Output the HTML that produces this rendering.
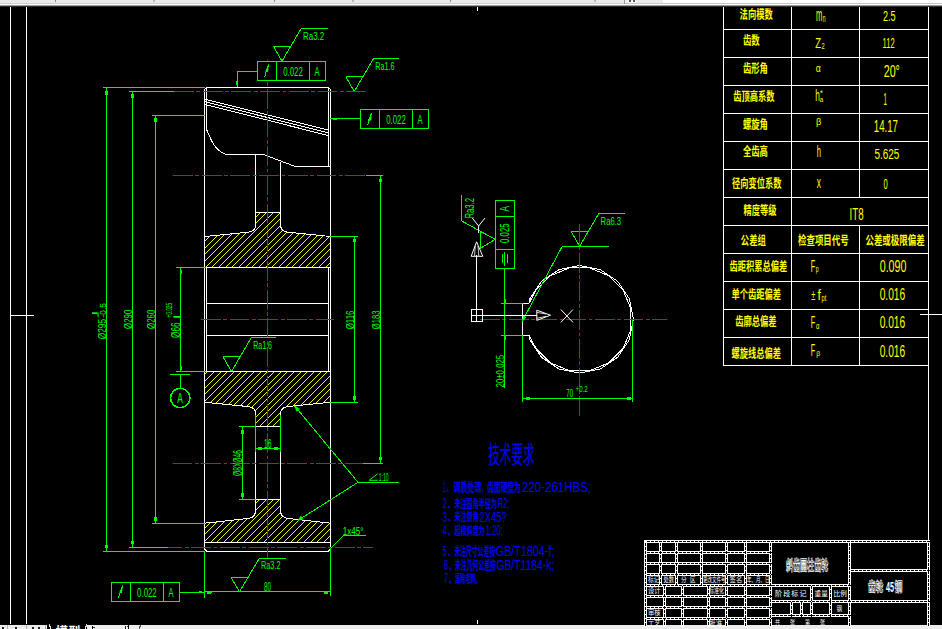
<!DOCTYPE html>
<html><head><meta charset="utf-8"><title>CAD</title>
<style>html,body{margin:0;padding:0;background:#000;overflow:hidden}svg{display:block;font-family:"Liberation Sans",sans-serif}.cj{font-family:"Liberation Sans","Noto Sans CJK SC",sans-serif}.cb{font-family:"Liberation Sans","Noto Sans CJK SC",sans-serif;font-weight:bold}</style>
</head><body>
<svg width="942" height="629" viewBox="0 0 942 629">
<rect x="0" y="0" width="942" height="629" fill="#000"/>
<rect x="0.00" y="0.00" width="942.00" height="3.00" fill="#ebebeb" />
<rect x="0.00" y="3.00" width="624.00" height="1.00" fill="#cfcfcf" />
<rect x="624.00" y="3.00" width="318.00" height="1.00" fill="#c8c8c8" />
<rect x="0.00" y="4.00" width="942.00" height="1.00" fill="#ffffff" />
<rect x="0.00" y="5.00" width="942.00" height="1.00" fill="#9c9c9c" />
<rect x="0.00" y="6.00" width="942.00" height="1.00" fill="#2e2e2e" />
<rect x="663.00" y="0.00" width="279.00" height="3.00" fill="#ffffff" />
<rect x="624.00" y="0.00" width="1.00" height="4.00" fill="#9a9a9a" />
<rect x="626.00" y="0.00" width="10.00" height="3.00" fill="#f8f8f8" />
<rect x="629.00" y="0.00" width="2.00" height="2.00" fill="#555" />
<rect x="633.00" y="0.00" width="2.00" height="2.00" fill="#555" />
<rect x="55.00" y="0.00" width="1.00" height="2.00" fill="#8a8a8a" />
<rect x="153.50" y="0.00" width="1.00" height="2.00" fill="#8a8a8a" />
<rect x="274.00" y="0.00" width="1.00" height="2.00" fill="#8a8a8a" />
<rect x="352.50" y="0.00" width="1.00" height="2.00" fill="#8a8a8a" />
<rect x="450.00" y="0.00" width="1.00" height="2.00" fill="#8a8a8a" />
<rect x="594.50" y="0.00" width="1.00" height="2.00" fill="#8a8a8a" />
<rect x="0.00" y="625.00" width="942.00" height="4.00" fill="#ececec" />
<rect x="7.00" y="625.00" width="1.00" height="4.00" fill="#b0b0b0" />
<rect x="26.00" y="625.00" width="1.00" height="4.00" fill="#b0b0b0" />
<rect x="45.00" y="625.00" width="1.00" height="4.00" fill="#b0b0b0" />
<rect x="2.00" y="627.00" width="2.00" height="2.00" fill="#222" />
<rect x="15.00" y="627.00" width="2.00" height="2.00" fill="#222" />
<rect x="32.00" y="627.00" width="2.00" height="2.00" fill="#222" />
<rect x="38.00" y="627.00" width="2.00" height="2.00" fill="#222" />
<rect x="47.00" y="625.00" width="40.00" height="4.00" fill="#000" />
<rect x="49.00" y="624.00" width="1.00" height="3.00" fill="#ddd" />
<rect x="50.00" y="626.00" width="1.00" height="3.00" fill="#ddd" />
<rect x="86.00" y="624.00" width="1.00" height="3.00" fill="#ddd" />
<rect x="85.00" y="626.00" width="1.00" height="3.00" fill="#ddd" />
<text class="cb" x="55.5" y="635.8" font-size="13" fill="#fff" textLength="25.2" lengthAdjust="spacingAndGlyphs">模型</text>
<rect x="92.00" y="626.00" width="1.00" height="3.00" fill="#000" />
<rect x="93.00" y="627.00" width="2.00" height="1.00" fill="#333" />
<rect x="125.00" y="626.00" width="1.00" height="3.00" fill="#222" />
<rect x="128.00" y="625.00" width="1.00" height="4.00" fill="#000" />
<rect x="127.00" y="626.00" width="1.00" height="1.00" fill="#444" />
<rect x="139.00" y="626.00" width="1.00" height="3.00" fill="#555" />
<rect x="140.00" y="625.00" width="1.00" height="2.00" fill="#555" />
<g shape-rendering="crispEdges">
<line x1="10.50" y1="7.00" x2="10.50" y2="624.00" stroke="#ffffff" stroke-width="1" />
<line x1="26.50" y1="7.00" x2="26.50" y2="624.00" stroke="#ffffff" stroke-width="1" />
<line x1="11.00" y1="315.50" x2="34.00" y2="315.50" stroke="#ffffff" stroke-width="1" />
<line x1="928.50" y1="7.00" x2="928.50" y2="541.00" stroke="#ffffff" stroke-width="1" />
<line x1="920.00" y1="314.50" x2="942.00" y2="314.50" stroke="#ffffff" stroke-width="1" />
<line x1="477.50" y1="7.00" x2="477.50" y2="10.50" stroke="#ffffff" stroke-width="1" />
<line x1="477.50" y1="620.00" x2="477.50" y2="624.00" stroke="#ffffff" stroke-width="1" />
<polygon points="204.60,549.30 204.60,89.50 206.60,87.50 328.40,87.50 330.40,89.50 330.40,549.30 328.40,551.30 206.60,551.30" fill="none" stroke="#ffffff" stroke-width="1" />
<line x1="206.50" y1="87.50" x2="206.50" y2="130.20" stroke="#ffffff" stroke-width="1" />
<line x1="328.50" y1="87.50" x2="328.50" y2="166.10" stroke="#ffffff" stroke-width="1" />
<line x1="204.60" y1="99.10" x2="328.80" y2="130.20" stroke="#ffffff" stroke-width="1" />
<line x1="204.60" y1="101.70" x2="328.80" y2="132.93" stroke="#ffffff" stroke-width="1" />
<line x1="204.60" y1="104.30" x2="328.80" y2="135.66" stroke="#ffffff" stroke-width="1" />
<polyline points="206.90,130.20 208.20,133.50 210.20,137.70 212.00,141.50 213.90,144.80 216.30,147.80 219.00,150.30 222.00,152.60 225.70,154.30 262.90,154.30 294.30,166.10 330.40,166.10" fill="none" stroke="#ffffff" stroke-width="1" />
<line x1="255.50" y1="154.30" x2="255.50" y2="225.00" stroke="#ffffff" stroke-width="1" />
<line x1="280.50" y1="161.50" x2="280.50" y2="225.00" stroke="#ffffff" stroke-width="1" />
</g>
<pattern id="hat" width="20" height="20" patternUnits="userSpaceOnUse"><g fill="#ffff00" shape-rendering="crispEdges"><rect x="5" y="0" width="1" height="1"/><rect x="12" y="0" width="1" height="1"/><rect x="18" y="0" width="1" height="1"/><rect x="4" y="1" width="1" height="1"/><rect x="11" y="1" width="1" height="1"/><rect x="17" y="1" width="1" height="1"/><rect x="3" y="2" width="1" height="1"/><rect x="10" y="2" width="1" height="1"/><rect x="16" y="2" width="1" height="1"/><rect x="2" y="3" width="1" height="1"/><rect x="9" y="3" width="1" height="1"/><rect x="15" y="3" width="1" height="1"/><rect x="1" y="4" width="1" height="1"/><rect x="8" y="4" width="1" height="1"/><rect x="14" y="4" width="1" height="1"/><rect x="0" y="5" width="1" height="1"/><rect x="7" y="5" width="1" height="1"/><rect x="13" y="5" width="1" height="1"/><rect x="19" y="6" width="1" height="1"/><rect x="6" y="6" width="1" height="1"/><rect x="12" y="6" width="1" height="1"/><rect x="18" y="7" width="1" height="1"/><rect x="5" y="7" width="1" height="1"/><rect x="11" y="7" width="1" height="1"/><rect x="17" y="8" width="1" height="1"/><rect x="4" y="8" width="1" height="1"/><rect x="10" y="8" width="1" height="1"/><rect x="16" y="9" width="1" height="1"/><rect x="3" y="9" width="1" height="1"/><rect x="9" y="9" width="1" height="1"/><rect x="15" y="10" width="1" height="1"/><rect x="2" y="10" width="1" height="1"/><rect x="8" y="10" width="1" height="1"/><rect x="14" y="11" width="1" height="1"/><rect x="1" y="11" width="1" height="1"/><rect x="7" y="11" width="1" height="1"/><rect x="13" y="12" width="1" height="1"/><rect x="0" y="12" width="1" height="1"/><rect x="6" y="12" width="1" height="1"/><rect x="12" y="13" width="1" height="1"/><rect x="19" y="13" width="1" height="1"/><rect x="5" y="13" width="1" height="1"/><rect x="11" y="14" width="1" height="1"/><rect x="18" y="14" width="1" height="1"/><rect x="4" y="14" width="1" height="1"/><rect x="10" y="15" width="1" height="1"/><rect x="17" y="15" width="1" height="1"/><rect x="3" y="15" width="1" height="1"/><rect x="9" y="16" width="1" height="1"/><rect x="16" y="16" width="1" height="1"/><rect x="2" y="16" width="1" height="1"/><rect x="8" y="17" width="1" height="1"/><rect x="15" y="17" width="1" height="1"/><rect x="1" y="17" width="1" height="1"/><rect x="7" y="18" width="1" height="1"/><rect x="14" y="18" width="1" height="1"/><rect x="0" y="18" width="1" height="1"/><rect x="6" y="19" width="1" height="1"/><rect x="13" y="19" width="1" height="1"/><rect x="19" y="19" width="1" height="1"/></g></pattern>
<path d="M255.6,212.0 L255.6,224.5 Q255.6,231.3 248.6,232.2 L204.6,236.5 L204.6,267.4 L330.4,267.4 L330.4,236.5 L287.5,232.2 Q280.5,231.3 280.5,224.5 L280.5,212.0 Z" fill="url(#hat)" stroke="none" stroke-width="0" />
<path d="M255.6,212.0 L255.6,224.5 Q255.6,231.3 248.6,232.2 L204.6,236.5 L204.6,267.4 L330.4,267.4 L330.4,236.5 L287.5,232.2 Q280.5,231.3 280.5,224.5 L280.5,212.0 Z" fill="none" stroke="#ffffff" stroke-width="1" shape-rendering="crispEdges"/>
<path d="M255.6,426.8 L255.6,414.3 Q255.6,407.5 248.6,406.6 L204.6,402.3 L204.6,371.4 L330.4,371.4 L330.4,402.3 L287.5,406.6 Q280.5,407.5 280.5,414.3 L280.5,426.8 Z" fill="url(#hat)" stroke="none" stroke-width="0" />
<path d="M255.6,426.8 L255.6,414.3 Q255.6,407.5 248.6,406.6 L204.6,402.3 L204.6,371.4 L330.4,371.4 L330.4,402.3 L287.5,406.6 Q280.5,407.5 280.5,414.3 L280.5,426.8 Z" fill="none" stroke="#ffffff" stroke-width="1" shape-rendering="crispEdges"/>
<path d="M255.6,499.3 L255.6,510 Q255.6,517.6 248.6,518.4 L204.6,523.2 L204.6,542.5 L330.4,542.5 L330.4,523.2 L287.5,518.4 Q280.5,517.6 280.5,510 L280.5,499.3 Z" fill="url(#hat)" stroke="none" stroke-width="0" />
<path d="M255.6,499.3 L255.6,510 Q255.6,517.6 248.6,518.4 L204.6,523.2 L204.6,542.5 L330.4,542.5 L330.4,523.2 L287.5,518.4 Q280.5,517.6 280.5,510 L280.5,499.3 Z" fill="none" stroke="#ffffff" stroke-width="1" shape-rendering="crispEdges"/>
<g shape-rendering="crispEdges">
<line x1="206.50" y1="267.40" x2="206.50" y2="371.40" stroke="#ffffff" stroke-width="1" />
<line x1="328.50" y1="267.40" x2="328.50" y2="371.40" stroke="#ffffff" stroke-width="1" />
<line x1="206.90" y1="303.50" x2="328.80" y2="303.50" stroke="#ffffff" stroke-width="1" />
<line x1="206.90" y1="335.50" x2="328.80" y2="335.50" stroke="#ffffff" stroke-width="1" />
<line x1="255.50" y1="414.50" x2="255.50" y2="451.80" stroke="#00ff00" stroke-width="1" />
<line x1="280.50" y1="414.50" x2="280.50" y2="451.80" stroke="#00ff00" stroke-width="1" />
<line x1="255.50" y1="451.80" x2="255.50" y2="499.30" stroke="#ffffff" stroke-width="1" />
<line x1="280.50" y1="451.80" x2="280.50" y2="499.30" stroke="#ffffff" stroke-width="1" />
<line x1="204.60" y1="542.50" x2="330.40" y2="542.50" stroke="#ffffff" stroke-width="1" />
<line x1="174.00" y1="91.50" x2="365.70" y2="91.50" stroke="#ff0000" stroke-width="1" stroke-dasharray="19.9 2.5 3.8 2.5"/>
<line x1="173.00" y1="175.50" x2="365.80" y2="175.50" stroke="#ff0000" stroke-width="1" stroke-dasharray="19.9 2.5 3.8 2.5"/>
<line x1="200.90" y1="319.50" x2="334.40" y2="319.50" stroke="#ff0000" stroke-width="1" stroke-dasharray="19.9 2.5 3.8 2.5"/>
<line x1="172.50" y1="463.50" x2="363.00" y2="463.50" stroke="#ff0000" stroke-width="1" stroke-dasharray="19.9 2.5 3.8 2.5"/>
<line x1="167.60" y1="547.50" x2="372.70" y2="547.50" stroke="#ff0000" stroke-width="1" stroke-dasharray="19.9 2.5 3.8 2.5" stroke-dashoffset="5.1"/>
<line x1="267.50" y1="60.00" x2="267.50" y2="558.00" stroke="#ff0000" stroke-width="1" stroke-dasharray="19.9 2.5 3.8 2.5"/>
<line x1="103.20" y1="87.50" x2="204.60" y2="87.50" stroke="#00ff00" stroke-width="1" />
<line x1="106.50" y1="87.40" x2="106.50" y2="551.30" stroke="#00ff00" stroke-width="1" />
<line x1="103.20" y1="551.50" x2="204.60" y2="551.50" stroke="#00ff00" stroke-width="1" />
<line x1="128.80" y1="91.50" x2="174.00" y2="91.50" stroke="#00ff00" stroke-width="1" />
<line x1="132.50" y1="91.40" x2="132.50" y2="547.40" stroke="#00ff00" stroke-width="1" />
<line x1="128.80" y1="547.50" x2="167.90" y2="547.50" stroke="#00ff00" stroke-width="1" />
<line x1="152.10" y1="115.50" x2="204.60" y2="115.50" stroke="#00ff00" stroke-width="1" />
<line x1="155.50" y1="115.50" x2="155.50" y2="523.20" stroke="#00ff00" stroke-width="1" />
<line x1="152.10" y1="523.50" x2="204.60" y2="523.50" stroke="#00ff00" stroke-width="1" />
<rect x="105.00" y="91.00" width="3.00" height="3.60" fill="#00ff00" />
<rect x="105.00" y="544.80" width="3.00" height="3.60" fill="#00ff00" />
<rect x="131.00" y="94.00" width="3.00" height="3.60" fill="#00ff00" />
<rect x="131.00" y="540.80" width="3.00" height="3.60" fill="#00ff00" />
<rect x="154.00" y="118.00" width="3.00" height="3.60" fill="#00ff00" />
<rect x="154.00" y="516.90" width="3.00" height="3.60" fill="#00ff00" />
<line x1="176.20" y1="267.50" x2="205.60" y2="267.50" stroke="#00ff00" stroke-width="1" />
<line x1="180.50" y1="267.40" x2="180.50" y2="371.40" stroke="#00ff00" stroke-width="1" />
<line x1="176.20" y1="371.50" x2="205.60" y2="371.50" stroke="#00ff00" stroke-width="1" />
<rect x="179.50" y="269.50" width="2.00" height="4.00" fill="#00ff00" />
<rect x="179.50" y="365.50" width="2.00" height="4.00" fill="#00ff00" />
<line x1="170.00" y1="374.50" x2="190.00" y2="374.50" stroke="#00ff00" stroke-width="1" />
<line x1="180.50" y1="375.00" x2="180.50" y2="388.00" stroke="#00ff00" stroke-width="1" />
</g>
<circle cx="180.2" cy="398" r="9.7" fill="none" stroke="#00ff00" stroke-width="1.5" shape-rendering="crispEdges"/>
<text x="177.3" y="402.8" font-size="14" fill="#00ff00" textLength="5.6" lengthAdjust="spacingAndGlyphs">A</text>
<text transform="translate(106.00,339.20) rotate(-90)" font-size="11.5" fill="#00ff00" textLength="20.3" lengthAdjust="spacingAndGlyphs">Ø295</text>
<text transform="translate(106.00,317.60) rotate(-90)" font-size="9.1" fill="#00ff00" textLength="14.5" lengthAdjust="spacingAndGlyphs">-0.5</text>
<rect x="92.00" y="312.30" width="5.50" height="1.80" fill="#00ff00" />
<rect x="97.60" y="312.40" width="1.00" height="5.00" fill="#00ff00" />
<text transform="translate(131.80,329.00) rotate(-90)" font-size="11.5" fill="#00ff00" textLength="19.3" lengthAdjust="spacingAndGlyphs">Ø290</text>
<text transform="translate(154.80,329.00) rotate(-90)" font-size="11.5" fill="#00ff00" textLength="19.3" lengthAdjust="spacingAndGlyphs">Ø260</text>
<text transform="translate(180.00,337.90) rotate(-90)" font-size="12" fill="#00ff00" textLength="15.3" lengthAdjust="spacingAndGlyphs">Ø66</text>
<text transform="translate(172.30,317.60) rotate(-90)" font-size="9.1" fill="#00ff00" textLength="14.8" lengthAdjust="spacingAndGlyphs">+0.025</text>
<rect x="173.40" y="316.00" width="7.30" height="1.80" fill="#00ff00" />
<g shape-rendering="crispEdges">
<line x1="330.40" y1="236.50" x2="357.80" y2="236.50" stroke="#00ff00" stroke-width="1" />
<line x1="354.50" y1="236.50" x2="354.50" y2="402.30" stroke="#00ff00" stroke-width="1" />
<line x1="330.40" y1="402.50" x2="357.80" y2="402.50" stroke="#00ff00" stroke-width="1" />
<rect x="353.00" y="238.80" width="3.00" height="3.60" fill="#00ff00" />
<rect x="353.00" y="396.40" width="3.00" height="3.60" fill="#00ff00" />
<line x1="365.80" y1="175.50" x2="383.40" y2="175.50" stroke="#00ff00" stroke-width="1" />
<line x1="380.50" y1="175.40" x2="380.50" y2="463.40" stroke="#00ff00" stroke-width="1" />
<line x1="363.00" y1="463.50" x2="383.40" y2="463.50" stroke="#00ff00" stroke-width="1" />
<rect x="379.00" y="178.80" width="3.00" height="3.60" fill="#00ff00" />
<rect x="379.00" y="456.60" width="3.00" height="3.60" fill="#00ff00" />
</g>
<text transform="translate(354.20,329.30) rotate(-90)" font-size="11.5" fill="#00ff00" textLength="18.8" lengthAdjust="spacingAndGlyphs">Ø116</text>
<text transform="translate(379.60,329.30) rotate(-90)" font-size="11.5" fill="#00ff00" textLength="18.8" lengthAdjust="spacingAndGlyphs">Ø183</text>
<rect x="257.30" y="61.10" width="68.40" height="19.40" fill="#000" />
<g shape-rendering="crispEdges">
<line x1="257.30" y1="61.50" x2="326.30" y2="61.50" stroke="#00ff00" stroke-width="1" />
<line x1="257.30" y1="80.50" x2="326.30" y2="80.50" stroke="#00ff00" stroke-width="1" />
<line x1="257.50" y1="61.10" x2="257.50" y2="80.50" stroke="#00ff00" stroke-width="1" />
<line x1="276.50" y1="61.10" x2="276.50" y2="80.50" stroke="#00ff00" stroke-width="1" />
<line x1="309.50" y1="61.10" x2="309.50" y2="80.50" stroke="#00ff00" stroke-width="1" />
<line x1="325.50" y1="61.10" x2="325.50" y2="80.50" stroke="#00ff00" stroke-width="1" />
</g>
<line x1="264.50" y1="77.30" x2="268.30" y2="64.90" stroke="#00ff00" stroke-width="1" shape-rendering="crispEdges"/>
<polygon points="268.90,64.30 265.30,71.30 267.90,71.90" fill="#00ff00" stroke="#00ff00" stroke-width="0.4" shape-rendering="crispEdges"/>
<text x="283.2" y="75.8" font-size="12.6" fill="#00ff00" textLength="19.6" lengthAdjust="spacingAndGlyphs">0.022</text>
<text x="314.5" y="75.8" font-size="12.6" fill="#00ff00" textLength="5" lengthAdjust="spacingAndGlyphs">A</text>
<rect x="360.30" y="109.30" width="68.40" height="19.40" fill="#000" />
<g shape-rendering="crispEdges">
<line x1="360.30" y1="109.50" x2="429.30" y2="109.50" stroke="#00ff00" stroke-width="1" />
<line x1="360.30" y1="128.50" x2="429.30" y2="128.50" stroke="#00ff00" stroke-width="1" />
<line x1="360.50" y1="109.30" x2="360.50" y2="128.70" stroke="#00ff00" stroke-width="1" />
<line x1="379.50" y1="109.30" x2="379.50" y2="128.70" stroke="#00ff00" stroke-width="1" />
<line x1="412.50" y1="109.30" x2="412.50" y2="128.70" stroke="#00ff00" stroke-width="1" />
<line x1="428.50" y1="109.30" x2="428.50" y2="128.70" stroke="#00ff00" stroke-width="1" />
</g>
<line x1="367.50" y1="125.50" x2="371.30" y2="113.10" stroke="#00ff00" stroke-width="1" shape-rendering="crispEdges"/>
<polygon points="371.90,112.50 368.30,119.50 370.90,120.10" fill="#00ff00" stroke="#00ff00" stroke-width="0.4" shape-rendering="crispEdges"/>
<text x="386.2" y="124" font-size="12.6" fill="#00ff00" textLength="19.6" lengthAdjust="spacingAndGlyphs">0.022</text>
<text x="417.5" y="124" font-size="12.6" fill="#00ff00" textLength="5" lengthAdjust="spacingAndGlyphs">A</text>
<rect x="111.20" y="582.20" width="68.40" height="19.40" fill="#000" />
<g shape-rendering="crispEdges">
<line x1="111.20" y1="582.50" x2="180.20" y2="582.50" stroke="#00ff00" stroke-width="1" />
<line x1="111.20" y1="601.50" x2="180.20" y2="601.50" stroke="#00ff00" stroke-width="1" />
<line x1="111.50" y1="582.20" x2="111.50" y2="601.60" stroke="#00ff00" stroke-width="1" />
<line x1="130.50" y1="582.20" x2="130.50" y2="601.60" stroke="#00ff00" stroke-width="1" />
<line x1="163.50" y1="582.20" x2="163.50" y2="601.60" stroke="#00ff00" stroke-width="1" />
<line x1="179.50" y1="582.20" x2="179.50" y2="601.60" stroke="#00ff00" stroke-width="1" />
</g>
<line x1="118.40" y1="598.40" x2="122.20" y2="586.00" stroke="#00ff00" stroke-width="1" shape-rendering="crispEdges"/>
<polygon points="122.80,585.40 119.20,592.40 121.80,593.00" fill="#00ff00" stroke="#00ff00" stroke-width="0.4" shape-rendering="crispEdges"/>
<text x="137.1" y="596.9" font-size="12.6" fill="#00ff00" textLength="19.6" lengthAdjust="spacingAndGlyphs">0.022</text>
<text x="168.4" y="596.9" font-size="12.6" fill="#00ff00" textLength="5" lengthAdjust="spacingAndGlyphs">A</text>
<g shape-rendering="crispEdges">
<line x1="237.30" y1="71.50" x2="257.30" y2="71.50" stroke="#00ff00" stroke-width="1" />
<line x1="237.50" y1="71.30" x2="237.50" y2="87.40" stroke="#00ff00" stroke-width="1" />
<rect x="236.00" y="81.00" width="1.50" height="3.50" fill="#00ff00" />
<line x1="330.40" y1="118.50" x2="360.30" y2="118.50" stroke="#00ff00" stroke-width="1" />
<rect x="333.20" y="118.40" width="4.00" height="1.60" fill="#00ff00" />
<line x1="179.80" y1="592.50" x2="204.60" y2="592.50" stroke="#00ff00" stroke-width="1" />
<rect x="198.50" y="591.00" width="3.50" height="1.50" fill="#00ff00" />
<rect x="208.00" y="591.00" width="4.00" height="1.50" fill="#00ff00" />
</g>
<g shape-rendering="crispEdges">
<line x1="273.40" y1="46.50" x2="290.60" y2="46.50" stroke="#00ff00" stroke-width="1" />
</g>
<line x1="273.40" y1="46.30" x2="282.00" y2="61.10" stroke="#00ff00" stroke-width="1" shape-rendering="crispEdges"/>
<line x1="282.00" y1="61.10" x2="301.40" y2="28.10" stroke="#00ff00" stroke-width="1" shape-rendering="crispEdges"/>
<g shape-rendering="crispEdges">
<line x1="301.40" y1="28.50" x2="328.10" y2="28.50" stroke="#00ff00" stroke-width="1" />
</g>
<text x="303" y="39.5" font-size="11.6" fill="#00ff00" textLength="21.2" lengthAdjust="spacingAndGlyphs">Ra3.2</text>
<g shape-rendering="crispEdges">
<line x1="345.70" y1="76.50" x2="362.90" y2="76.50" stroke="#00ff00" stroke-width="1" />
</g>
<line x1="345.70" y1="76.50" x2="354.30" y2="91.30" stroke="#00ff00" stroke-width="1" shape-rendering="crispEdges"/>
<line x1="354.30" y1="91.30" x2="373.70" y2="58.30" stroke="#00ff00" stroke-width="1" shape-rendering="crispEdges"/>
<g shape-rendering="crispEdges">
<line x1="373.70" y1="58.50" x2="399.10" y2="58.50" stroke="#00ff00" stroke-width="1" />
</g>
<text x="375.3" y="69.7" font-size="11.6" fill="#00ff00" textLength="19.2" lengthAdjust="spacingAndGlyphs">Ra1.6</text>
<g shape-rendering="crispEdges">
<line x1="222.90" y1="356.50" x2="240.10" y2="356.50" stroke="#00ff00" stroke-width="1" />
</g>
<line x1="222.90" y1="356.60" x2="231.50" y2="371.40" stroke="#00ff00" stroke-width="1" shape-rendering="crispEdges"/>
<line x1="231.50" y1="371.40" x2="251.66" y2="337.10" stroke="#00ff00" stroke-width="1" shape-rendering="crispEdges"/>
<g shape-rendering="crispEdges">
<line x1="251.66" y1="337.50" x2="276.26" y2="337.50" stroke="#00ff00" stroke-width="1" />
</g>
<text x="253.26" y="348.5" font-size="11.6" fill="#00ff00" textLength="18.7" lengthAdjust="spacingAndGlyphs">Ra1.6</text>
<g shape-rendering="crispEdges">
<line x1="230.90" y1="577.50" x2="248.10" y2="577.50" stroke="#00ff00" stroke-width="1" />
</g>
<line x1="230.90" y1="577.10" x2="239.50" y2="591.90" stroke="#00ff00" stroke-width="1" shape-rendering="crispEdges"/>
<line x1="239.50" y1="591.90" x2="259.43" y2="558.00" stroke="#00ff00" stroke-width="1" shape-rendering="crispEdges"/>
<g shape-rendering="crispEdges">
<line x1="259.43" y1="558.50" x2="286.03" y2="558.50" stroke="#00ff00" stroke-width="1" />
</g>
<text x="261.03" y="569.4" font-size="11.6" fill="#00ff00" textLength="19.5" lengthAdjust="spacingAndGlyphs">Ra3.2</text>
<g shape-rendering="crispEdges">
<line x1="571.00" y1="231.50" x2="588.20" y2="231.50" stroke="#00ff00" stroke-width="1" />
</g>
<line x1="571.00" y1="231.40" x2="579.60" y2="246.20" stroke="#00ff00" stroke-width="1" shape-rendering="crispEdges"/>
<line x1="579.60" y1="246.20" x2="599.00" y2="213.20" stroke="#00ff00" stroke-width="1" shape-rendering="crispEdges"/>
<g shape-rendering="crispEdges">
<line x1="599.00" y1="213.50" x2="625.00" y2="213.50" stroke="#00ff00" stroke-width="1" />
</g>
<text x="600.6" y="224.6" font-size="11.6" fill="#00ff00" textLength="20.5" lengthAdjust="spacingAndGlyphs">Ra6.3</text>
<g shape-rendering="crispEdges">
<line x1="204.50" y1="551.30" x2="204.50" y2="598.00" stroke="#00ff00" stroke-width="1" />
<line x1="330.50" y1="548.00" x2="330.50" y2="596.00" stroke="#00ff00" stroke-width="1" />
<line x1="204.60" y1="591.50" x2="330.40" y2="591.50" stroke="#00ff00" stroke-width="1" />
<rect x="206.60" y="590.50" width="4.50" height="3.00" fill="#00ff00" />
<rect x="323.90" y="590.50" width="4.50" height="3.00" fill="#00ff00" />
<line x1="255.60" y1="448.50" x2="280.50" y2="448.50" stroke="#00ff00" stroke-width="1" />
<rect x="258.40" y="447.20" width="4.00" height="3.00" fill="#00ff00" />
<rect x="273.80" y="447.20" width="4.00" height="3.00" fill="#00ff00" />
<line x1="239.00" y1="426.50" x2="255.60" y2="426.50" stroke="#00ff00" stroke-width="1" />
<line x1="242.50" y1="426.80" x2="242.50" y2="499.30" stroke="#00ff00" stroke-width="1" />
<line x1="239.00" y1="499.50" x2="255.60" y2="499.50" stroke="#00ff00" stroke-width="1" />
<rect x="241.00" y="429.60" width="3.00" height="4.50" fill="#00ff00" />
<rect x="241.00" y="492.50" width="3.00" height="4.50" fill="#00ff00" />
</g>
<text x="264" y="447.6" font-size="11.9" fill="#00ff00" textLength="7.4" lengthAdjust="spacingAndGlyphs">16</text>
<text x="264" y="591.2" font-size="11.9" fill="#00ff00" textLength="6.8" lengthAdjust="spacingAndGlyphs">80</text>
<text transform="translate(241.60,476.00) rotate(-90)" font-size="12" fill="#00ff00" textLength="26" lengthAdjust="spacingAndGlyphs">Ø8XØ46</text>
<line x1="294.80" y1="406.10" x2="358.00" y2="482.30" stroke="#00ff00" stroke-width="1" shape-rendering="crispEdges"/>
<line x1="358.00" y1="482.30" x2="298.00" y2="520.40" stroke="#00ff00" stroke-width="1" shape-rendering="crispEdges"/>
<polygon points="298.00,520.20 303.20,519.20 301.00,515.80" fill="#00ff00" stroke="#00ff00" stroke-width="0.5" />
<polygon points="294.80,406.10 299.60,409.00 296.60,411.40" fill="#00ff00" stroke="#00ff00" stroke-width="0.5" />
<g shape-rendering="crispEdges">
<line x1="358.00" y1="482.50" x2="399.00" y2="482.50" stroke="#00ff00" stroke-width="1" />
<line x1="344.00" y1="535.50" x2="366.00" y2="535.50" stroke="#00ff00" stroke-width="1" />
</g>
<line x1="344.00" y1="535.30" x2="330.80" y2="548.00" stroke="#00ff00" stroke-width="1" shape-rendering="crispEdges"/>
<polyline points="377.60,473.80 369.30,480.30 377.80,480.30" fill="none" stroke="#00ff00" stroke-width="1" />
<text x="378.8" y="480.6" font-size="10" fill="#00ff00" textLength="9.6" lengthAdjust="spacingAndGlyphs">1:10</text>
<text x="342.8" y="534.6" font-size="11.2" fill="#00ff00" textLength="20.8" lengthAdjust="spacingAndGlyphs">1x45°</text>
<polyline points="529.19,302.95 529.90,298.71 541.56,281.26 559.01,269.60 579.60,265.50 600.19,269.60 617.64,281.26 629.30,298.71 633.40,319.30 629.30,339.89 617.64,357.34 600.19,369.00 579.60,373.10 559.01,369.00 541.56,357.34 529.90,339.89 529.15,335.55" fill="none" stroke="#ffffff" stroke-width="1" shape-rendering="crispEdges"/>
<polyline points="529.19,302.95 536.03,290.19 550.49,275.73 569.38,267.91 589.82,267.91 608.71,275.73 623.17,290.19 630.99,309.08 630.99,329.52 623.17,348.41 608.71,362.87 589.82,370.69 569.38,370.69 550.49,362.87 536.03,348.41 529.15,335.55" fill="none" stroke="#ffffff" stroke-width="1" shape-rendering="crispEdges"/>
<g shape-rendering="crispEdges">
<line x1="522.90" y1="303.50" x2="529.19" y2="303.50" stroke="#ffffff" stroke-width="1" />
<line x1="522.90" y1="335.50" x2="529.15" y2="335.50" stroke="#ffffff" stroke-width="1" />
<line x1="522.50" y1="303.10" x2="522.50" y2="335.40" stroke="#ffffff" stroke-width="1" />
<line x1="480.00" y1="319.50" x2="667.00" y2="319.50" stroke="#ff0000" stroke-width="1" stroke-dasharray="19.9 2.5 3.8 2.5"/>
<line x1="579.50" y1="224.00" x2="579.50" y2="415.50" stroke="#ff0000" stroke-width="1" stroke-dasharray="19.9 2.5 3.8 2.5"/>
<line x1="501.00" y1="303.50" x2="522.90" y2="303.50" stroke="#00ff00" stroke-width="1" />
<line x1="501.00" y1="335.50" x2="522.90" y2="335.50" stroke="#00ff00" stroke-width="1" />
<line x1="504.50" y1="268.40" x2="504.50" y2="388.00" stroke="#00ff00" stroke-width="1" />
<rect x="504.00" y="299.00" width="2.00" height="3.50" fill="#00ff00" />
<rect x="504.00" y="336.00" width="2.00" height="3.50" fill="#00ff00" />
<line x1="522.50" y1="335.40" x2="522.50" y2="401.70" stroke="#00ff00" stroke-width="1" />
<line x1="632.50" y1="319.60" x2="632.50" y2="401.70" stroke="#00ff00" stroke-width="1" />
<line x1="522.90" y1="398.50" x2="632.60" y2="398.50" stroke="#00ff00" stroke-width="1" />
<rect x="525.50" y="397.00" width="4.00" height="3.00" fill="#00ff00" />
<rect x="626.50" y="397.00" width="4.00" height="3.00" fill="#00ff00" />
<line x1="562.30" y1="246.50" x2="608.80" y2="246.50" stroke="#00ff00" stroke-width="1" />
</g>
<line x1="562.30" y1="246.20" x2="521.70" y2="322.30" stroke="#00ff00" stroke-width="1" shape-rendering="crispEdges"/>
<polygon points="521.70,322.30 526.00,317.30 523.50,315.90" fill="#00ff00" stroke="#00ff00" stroke-width="0.4" shape-rendering="crispEdges"/>
<text transform="translate(504.40,387.40) rotate(-90)" font-size="11.7" fill="#00ff00" textLength="32.6" lengthAdjust="spacingAndGlyphs">20±0.025</text>
<text x="566.3" y="397.4" font-size="11.6" fill="#00ff00" textLength="6.8" lengthAdjust="spacingAndGlyphs">70</text>
<text x="575.6" y="391.6" font-size="9.5" fill="#00ff00" textLength="12" lengthAdjust="spacingAndGlyphs">+0.2</text>
<g shape-rendering="crispEdges">
<line x1="495.50" y1="200.00" x2="495.50" y2="268.40" stroke="#00ff00" stroke-width="1" />
<line x1="514.50" y1="200.00" x2="514.50" y2="268.40" stroke="#00ff00" stroke-width="1" />
<line x1="495.30" y1="200.50" x2="515.20" y2="200.50" stroke="#00ff00" stroke-width="1" />
<line x1="495.30" y1="216.50" x2="515.20" y2="216.50" stroke="#00ff00" stroke-width="1" />
<line x1="495.30" y1="249.50" x2="515.20" y2="249.50" stroke="#00ff00" stroke-width="1" />
<line x1="495.30" y1="268.50" x2="515.20" y2="268.50" stroke="#00ff00" stroke-width="1" />
<line x1="502.50" y1="254.40" x2="502.50" y2="263.00" stroke="#00ff00" stroke-width="1" />
<line x1="504.50" y1="251.80" x2="504.50" y2="265.80" stroke="#00ff00" stroke-width="1" />
<line x1="507.50" y1="254.40" x2="507.50" y2="263.00" stroke="#00ff00" stroke-width="1" />
<line x1="461.50" y1="195.00" x2="461.50" y2="220.80" stroke="#00ff00" stroke-width="1" />
</g>
<line x1="461.40" y1="220.80" x2="495.30" y2="239.40" stroke="#00ff00" stroke-width="1" shape-rendering="crispEdges"/>
<polygon points="480.30,231.50 480.30,248.40 495.30,239.40" fill="none" stroke="#00ff00" stroke-width="1" shape-rendering="crispEdges"/>
<text transform="translate(474.00,218.60) rotate(-90)" font-size="12" fill="#00ff00" textLength="20.7" lengthAdjust="spacingAndGlyphs">Ra3.2</text>
<text transform="translate(508.60,211.40) rotate(-90)" font-size="12" fill="#00ff00" textLength="5.6" lengthAdjust="spacingAndGlyphs">A</text>
<text transform="translate(509.10,243.00) rotate(-90)" font-size="12" fill="#00ff00" textLength="19.6" lengthAdjust="spacingAndGlyphs">0.025</text>
<g shape-rendering="crispEdges">
<rect x="471.5" y="309.5" width="11" height="12" fill="none" stroke="#ffffff"/>
<line x1="476.50" y1="255.00" x2="476.50" y2="321.40" stroke="#ffffff" stroke-width="1" />
<line x1="471.50" y1="315.50" x2="537.00" y2="315.50" stroke="#ffffff" stroke-width="1" />
</g>
<polygon points="476.60,241.80 471.20,256.30 482.80,256.30" fill="none" stroke="#ffffff" stroke-width="1" />
<line x1="475.20" y1="246.00" x2="474.60" y2="256.00" stroke="#ffffff" stroke-width="0.8" />
<line x1="478.00" y1="246.00" x2="478.80" y2="256.00" stroke="#ffffff" stroke-width="0.8" />
<polygon points="550.50,315.20 536.80,310.20 536.80,320.40" fill="none" stroke="#ffffff" stroke-width="1" />
<line x1="546.00" y1="314.00" x2="537.00" y2="312.40" stroke="#ffffff" stroke-width="0.8" />
<line x1="546.00" y1="316.40" x2="537.00" y2="318.20" stroke="#ffffff" stroke-width="0.8" />
<line x1="472.30" y1="218.00" x2="478.60" y2="226.00" stroke="#ffffff" stroke-width="1" />
<line x1="485.00" y1="218.00" x2="478.60" y2="226.00" stroke="#ffffff" stroke-width="1" />
<line x1="478.60" y1="226.00" x2="478.60" y2="233.00" stroke="#ffffff" stroke-width="1" />
<line x1="560.80" y1="309.50" x2="573.00" y2="322.40" stroke="#ffffff" stroke-width="1" />
<line x1="573.00" y1="309.50" x2="560.80" y2="322.40" stroke="#ffffff" stroke-width="1" />
<g shape-rendering="crispEdges">
<line x1="723.60" y1="29.50" x2="929.30" y2="29.50" stroke="#ffffff" stroke-width="1" />
<line x1="723.60" y1="57.50" x2="929.30" y2="57.50" stroke="#ffffff" stroke-width="1" />
<line x1="723.60" y1="85.50" x2="929.30" y2="85.50" stroke="#ffffff" stroke-width="1" />
<line x1="723.60" y1="113.50" x2="929.30" y2="113.50" stroke="#ffffff" stroke-width="1" />
<line x1="723.60" y1="141.50" x2="929.30" y2="141.50" stroke="#ffffff" stroke-width="1" />
<line x1="723.60" y1="169.50" x2="929.30" y2="169.50" stroke="#ffffff" stroke-width="1" />
<line x1="723.60" y1="197.50" x2="929.30" y2="197.50" stroke="#ffffff" stroke-width="1" />
<line x1="723.60" y1="225.50" x2="929.30" y2="225.50" stroke="#ffffff" stroke-width="1" />
<line x1="723.60" y1="253.50" x2="929.30" y2="253.50" stroke="#ffffff" stroke-width="1" />
<line x1="723.60" y1="281.50" x2="929.30" y2="281.50" stroke="#ffffff" stroke-width="1" />
<line x1="723.60" y1="309.50" x2="929.30" y2="309.50" stroke="#ffffff" stroke-width="1" />
<line x1="723.60" y1="337.50" x2="929.30" y2="337.50" stroke="#ffffff" stroke-width="1" />
<line x1="723.60" y1="365.50" x2="929.30" y2="365.50" stroke="#ffffff" stroke-width="1" />
<line x1="723.50" y1="7.00" x2="723.50" y2="365.65" stroke="#ffffff" stroke-width="1" />
<line x1="791.50" y1="7.00" x2="791.50" y2="365.65" stroke="#ffffff" stroke-width="1" />
<line x1="928.50" y1="7.00" x2="928.50" y2="365.65" stroke="#ffffff" stroke-width="1" />
<line x1="859.50" y1="7.00" x2="859.50" y2="197.35" stroke="#ffffff" stroke-width="1" />
<line x1="859.50" y1="225.40" x2="859.50" y2="365.65" stroke="#ffffff" stroke-width="1" />
</g>
<text class="cb" x="739.6" y="19.24" font-size="12.2" fill="#ffff00" textLength="33.15" lengthAdjust="spacingAndGlyphs">法向模数</text>
<text class="cb" x="742.9" y="44.74" font-size="12.2" fill="#ffff00" textLength="16.85" lengthAdjust="spacingAndGlyphs">齿数</text>
<text class="cb" x="742.9" y="72.94" font-size="12.2" fill="#ffff00" textLength="25" lengthAdjust="spacingAndGlyphs">齿形角</text>
<text class="cb" x="733.3" y="100.64" font-size="12.2" fill="#ffff00" textLength="41.3" lengthAdjust="spacingAndGlyphs">齿顶高系数</text>
<text class="cb" x="742.9" y="128.54" font-size="12.2" fill="#ffff00" textLength="25" lengthAdjust="spacingAndGlyphs">螺旋角</text>
<text class="cb" x="742.9" y="156.44" font-size="12.2" fill="#ffff00" textLength="25" lengthAdjust="spacingAndGlyphs">全齿高</text>
<text class="cb" x="732.1" y="188.04" font-size="12.2" fill="#ffff00" textLength="49.45" lengthAdjust="spacingAndGlyphs">径向变位系数</text>
<text class="cb" x="743.4" y="215.24" font-size="12.2" fill="#ffff00" textLength="33.15" lengthAdjust="spacingAndGlyphs">精度等级</text>
<text class="cb" x="740.8" y="245.14" font-size="12.2" fill="#ffff00" textLength="25" lengthAdjust="spacingAndGlyphs">公差组</text>
<text class="cb" x="729.6" y="271.44" font-size="12.2" fill="#ffff00" textLength="57.6" lengthAdjust="spacingAndGlyphs">齿距积累总偏差</text>
<text class="cb" x="731.6" y="299.04" font-size="12.2" fill="#ffff00" textLength="49.45" lengthAdjust="spacingAndGlyphs">单个齿距偏差</text>
<text class="cb" x="735.3" y="325.94" font-size="12.2" fill="#ffff00" textLength="41.3" lengthAdjust="spacingAndGlyphs">齿廓总偏差</text>
<text class="cb" x="731.6" y="357.74" font-size="12.2" fill="#ffff00" textLength="49.45" lengthAdjust="spacingAndGlyphs">螺旋线总偏差</text>
<text class="cb" x="798" y="244.54" font-size="12.2" fill="#ffff00" textLength="50.7" lengthAdjust="spacingAndGlyphs">检查项目代号</text>
<text class="cb" x="865.4" y="244.54" font-size="12.2" fill="#ffff00" textLength="59.4" lengthAdjust="spacingAndGlyphs">公差或极限偏差</text>
<text x="815.9" y="21.3" font-size="17.5" fill="#ffff00" textLength="6.3" lengthAdjust="spacingAndGlyphs">m</text>
<text x="822.8" y="22" font-size="10.9" fill="#ffff00" textLength="2.8" lengthAdjust="spacingAndGlyphs">n</text>
<text x="815.2" y="48.2" font-size="15.4" fill="#ffff00" textLength="5.8" lengthAdjust="spacingAndGlyphs">Z</text>
<text x="821.4" y="49" font-size="8.8" fill="#ffff00" textLength="3.2" lengthAdjust="spacingAndGlyphs">2</text>
<text x="815.8" y="72" font-size="10.6" fill="#ffff00" textLength="5" lengthAdjust="spacingAndGlyphs">α</text>
<text x="815.2" y="101.2" font-size="16.7" fill="#ffff00" textLength="4.6" lengthAdjust="spacingAndGlyphs">h</text>
<text x="820" y="95.5" font-size="9" fill="#ffff00" textLength="2.8" lengthAdjust="spacingAndGlyphs">*</text>
<text x="819.8" y="101.8" font-size="8" fill="#ffff00" textLength="3.4" lengthAdjust="spacingAndGlyphs">a</text>
<text x="816" y="124.8" font-size="9.5" fill="#ffff00" textLength="5.3" lengthAdjust="spacingAndGlyphs">β</text>
<text x="816.8" y="157.1" font-size="15.8" fill="#ffff00" textLength="4.2" lengthAdjust="spacingAndGlyphs">h</text>
<text x="816.8" y="187.7" font-size="16.7" fill="#ffff00" textLength="4.2" lengthAdjust="spacingAndGlyphs">x</text>
<text x="849.6" y="220.4" font-size="15.8" fill="#ffff00" textLength="14" lengthAdjust="spacingAndGlyphs">IT8</text>
<text x="810.8" y="271.8" font-size="15.9" fill="#ffff00" textLength="4.4" lengthAdjust="spacingAndGlyphs">F</text>
<text x="815.8" y="272.3" font-size="9.1" fill="#ffff00" textLength="2.8" lengthAdjust="spacingAndGlyphs">p</text>
<text x="811.2" y="300.4" font-size="14" fill="#ffff00" textLength="4" lengthAdjust="spacingAndGlyphs">±</text>
<text x="817.5" y="299.6" font-size="15.3" fill="#ffff00" textLength="3.4" lengthAdjust="spacingAndGlyphs">f</text>
<text x="821.5" y="300.6" font-size="9.7" fill="#ffff00" textLength="4.8" lengthAdjust="spacingAndGlyphs">pt</text>
<text x="810.8" y="327.9" font-size="16.4" fill="#ffff00" textLength="4.4" lengthAdjust="spacingAndGlyphs">F</text>
<text x="816" y="328.9" font-size="8.6" fill="#ffff00" textLength="3.4" lengthAdjust="spacingAndGlyphs">α</text>
<text x="810.8" y="356" font-size="16" fill="#ffff00" textLength="4.4" lengthAdjust="spacingAndGlyphs">F</text>
<text x="816.3" y="355.6" font-size="6.5" fill="#ffff00" textLength="3.9" lengthAdjust="spacingAndGlyphs">β</text>
<text x="883" y="21.3" font-size="14" fill="#ffff00" textLength="12.6" lengthAdjust="spacingAndGlyphs">2.5</text>
<text x="882.6" y="48.2" font-size="14.7" fill="#ffff00" textLength="12" lengthAdjust="spacingAndGlyphs">112</text>
<text x="883.7" y="77.3" font-size="16" fill="#ffff00" textLength="16.2" lengthAdjust="spacingAndGlyphs">20°</text>
<text x="883.6" y="105" font-size="16.2" fill="#ffff00" textLength="3.4" lengthAdjust="spacingAndGlyphs">1</text>
<text x="873.8" y="131.8" font-size="16.5" fill="#ffff00" textLength="24.2" lengthAdjust="spacingAndGlyphs">14.17</text>
<text x="874.4" y="158.9" font-size="15.2" fill="#ffff00" textLength="25" lengthAdjust="spacingAndGlyphs">5.625</text>
<text x="883.6" y="189" font-size="15.1" fill="#ffff00" textLength="4.2" lengthAdjust="spacingAndGlyphs">0</text>
<text x="879.7" y="271.8" font-size="16.3" fill="#ffff00" textLength="26.8" lengthAdjust="spacingAndGlyphs">0.090</text>
<text x="879.7" y="299.8" font-size="16.3" fill="#ffff00" textLength="25.5" lengthAdjust="spacingAndGlyphs">0.016</text>
<text x="879.7" y="328.2" font-size="16.3" fill="#ffff00" textLength="25.5" lengthAdjust="spacingAndGlyphs">0.016</text>
<text x="879.7" y="356.7" font-size="16.3" fill="#ffff00" textLength="25.5" lengthAdjust="spacingAndGlyphs">0.016</text>
<text class="cj" x="488.3" y="463.18" font-size="23.5" fill="#0000ff" textLength="46.3" lengthAdjust="spacingAndGlyphs">技术要求</text>
<text x="442.8" y="491.7" font-size="14.7" fill="#0000ff" textLength="3.2" lengthAdjust="spacingAndGlyphs">1</text>
<text class="cb" x="446.5" y="491.52" font-size="12.3" fill="#0000ff" textLength="6.5" lengthAdjust="spacingAndGlyphs">、</text>
<text class="cb" x="453.4" y="491.52" font-size="12.3" fill="#0000ff" textLength="28" lengthAdjust="spacingAndGlyphs">调质处理</text>
<text class="cb" x="482" y="491.52" font-size="12.3" fill="#0000ff" textLength="4" lengthAdjust="spacingAndGlyphs">，</text>
<text class="cb" x="487.3" y="491.52" font-size="12.3" fill="#0000ff" textLength="33.5" lengthAdjust="spacingAndGlyphs">齿面硬度为</text>
<text x="522" y="491.7" font-size="14.7" fill="#0000ff" textLength="69" lengthAdjust="spacingAndGlyphs">220-261HBS;</text>
<text x="442.8" y="508.4" font-size="14" fill="#0000ff" textLength="4.2" lengthAdjust="spacingAndGlyphs">2</text>
<text class="cb" x="448" y="508.28" font-size="11.8" fill="#0000ff" textLength="6.5" lengthAdjust="spacingAndGlyphs">、</text>
<text class="cb" x="454.4" y="508.28" font-size="11.8" fill="#0000ff" textLength="42.7" lengthAdjust="spacingAndGlyphs">未注圆角半径为</text>
<text x="497.8" y="508.4" font-size="14" fill="#0000ff" textLength="11.6" lengthAdjust="spacingAndGlyphs">R2;</text>
<text x="442.8" y="521.6" font-size="14" fill="#0000ff" textLength="4.2" lengthAdjust="spacingAndGlyphs">3</text>
<text class="cb" x="448" y="521.48" font-size="11.8" fill="#0000ff" textLength="6.5" lengthAdjust="spacingAndGlyphs">、</text>
<text class="cb" x="454.4" y="521.48" font-size="11.8" fill="#0000ff" textLength="24.4" lengthAdjust="spacingAndGlyphs">未注倒角</text>
<text x="479.6" y="521.6" font-size="14" fill="#0000ff" textLength="27" lengthAdjust="spacingAndGlyphs">2X45?</text>
<text x="442.8" y="535" font-size="14" fill="#0000ff" textLength="4.2" lengthAdjust="spacingAndGlyphs">4</text>
<text class="cb" x="448" y="534.88" font-size="11.8" fill="#0000ff" textLength="6.5" lengthAdjust="spacingAndGlyphs">、</text>
<text class="cb" x="454.4" y="534.88" font-size="11.8" fill="#0000ff" textLength="30.5" lengthAdjust="spacingAndGlyphs">起模斜度为</text>
<text x="485.8" y="535" font-size="14" fill="#0000ff" textLength="17.2" lengthAdjust="spacingAndGlyphs">1:20;</text>
<text x="442.8" y="556" font-size="14.5" fill="#0000ff" textLength="4.2" lengthAdjust="spacingAndGlyphs">5</text>
<text class="cb" x="448" y="555.84" font-size="12.2" fill="#0000ff" textLength="6.5" lengthAdjust="spacingAndGlyphs">、</text>
<text class="cb" x="454.4" y="555.84" font-size="12.2" fill="#0000ff" textLength="40.95" lengthAdjust="spacingAndGlyphs">未注尺寸公差按</text>
<text x="495.8" y="556" font-size="14.5" fill="#0000ff" textLength="58.6" lengthAdjust="spacingAndGlyphs">GB/T1804-f;</text>
<text x="444.1" y="569.8" font-size="14.5" fill="#0000ff" textLength="4.2" lengthAdjust="spacingAndGlyphs">6</text>
<text class="cb" x="449" y="569.64" font-size="12.2" fill="#0000ff" textLength="6.5" lengthAdjust="spacingAndGlyphs">、</text>
<text class="cb" x="455" y="569.64" font-size="12.2" fill="#0000ff" textLength="40.95" lengthAdjust="spacingAndGlyphs">未注几何公差按</text>
<text x="496.4" y="569.8" font-size="14.5" fill="#0000ff" textLength="58" lengthAdjust="spacingAndGlyphs">GB/T1184-k;</text>
<text x="444.1" y="582.8" font-size="14" fill="#0000ff" textLength="4.2" lengthAdjust="spacingAndGlyphs">7</text>
<text class="cb" x="449" y="582.68" font-size="11.8" fill="#0000ff" textLength="6.5" lengthAdjust="spacingAndGlyphs">、</text>
<text class="cb" x="455" y="582.68" font-size="11.8" fill="#0000ff" textLength="26" lengthAdjust="spacingAndGlyphs">清除毛刺。</text>
<g shape-rendering="crispEdges">
<line x1="644.00" y1="541.50" x2="772.00" y2="541.50" stroke="#ffffff" stroke-width="3" />
<line x1="644.00" y1="552.50" x2="772.00" y2="552.50" stroke="#ffffff" stroke-width="3" />
<line x1="644.00" y1="563.50" x2="772.00" y2="563.50" stroke="#ffffff" stroke-width="3" />
<line x1="644.00" y1="574.50" x2="772.00" y2="574.50" stroke="#ffffff" stroke-width="3" />
<line x1="644.00" y1="585.50" x2="772.00" y2="585.50" stroke="#ffffff" stroke-width="3" />
<line x1="644.00" y1="596.50" x2="772.00" y2="596.50" stroke="#ffffff" stroke-width="3" />
<line x1="644.00" y1="607.50" x2="772.00" y2="607.50" stroke="#ffffff" stroke-width="3" />
<line x1="644.00" y1="618.50" x2="772.00" y2="618.50" stroke="#ffffff" stroke-width="3" />
<line x1="644.00" y1="541.50" x2="930.00" y2="541.50" stroke="#ffffff" stroke-width="3" />
<line x1="769.00" y1="585.50" x2="851.00" y2="585.50" stroke="#ffffff" stroke-width="3" />
<line x1="769.00" y1="601.50" x2="930.00" y2="601.50" stroke="#ffffff" stroke-width="3" />
<line x1="769.00" y1="615.50" x2="851.00" y2="615.50" stroke="#ffffff" stroke-width="3" />
<line x1="848.00" y1="570.50" x2="930.00" y2="570.50" stroke="#ffffff" stroke-width="3" />
<line x1="660.50" y1="540.00" x2="660.50" y2="587.00" stroke="#ffffff" stroke-width="3" />
<line x1="676.50" y1="540.00" x2="676.50" y2="587.00" stroke="#ffffff" stroke-width="3" />
<line x1="701.50" y1="540.00" x2="701.50" y2="587.00" stroke="#ffffff" stroke-width="3" />
<line x1="664.50" y1="584.00" x2="664.50" y2="627.00" stroke="#ffffff" stroke-width="3" />
<line x1="682.50" y1="584.00" x2="682.50" y2="627.00" stroke="#ffffff" stroke-width="3" />
<line x1="708.50" y1="584.00" x2="708.50" y2="627.00" stroke="#ffffff" stroke-width="3" />
<line x1="645.50" y1="540.00" x2="645.50" y2="627.00" stroke="#ffffff" stroke-width="3" />
<line x1="726.50" y1="540.00" x2="726.50" y2="627.00" stroke="#ffffff" stroke-width="3" />
<line x1="745.50" y1="540.00" x2="745.50" y2="627.00" stroke="#ffffff" stroke-width="3" />
<line x1="770.50" y1="540.00" x2="770.50" y2="627.00" stroke="#ffffff" stroke-width="3" />
<line x1="849.50" y1="540.00" x2="849.50" y2="627.00" stroke="#ffffff" stroke-width="3" />
<line x1="928.50" y1="540.00" x2="928.50" y2="627.00" stroke="#ffffff" stroke-width="3" />
<line x1="811.50" y1="584.00" x2="811.50" y2="617.00" stroke="#ffffff" stroke-width="3" />
<line x1="830.50" y1="584.00" x2="830.50" y2="617.00" stroke="#ffffff" stroke-width="3" />
<line x1="791.50" y1="600.00" x2="791.50" y2="617.00" stroke="#ffffff" stroke-width="3" />
<line x1="801.50" y1="600.00" x2="801.50" y2="617.00" stroke="#ffffff" stroke-width="3" />
<line x1="646.70" y1="541.50" x2="771.70" y2="541.50" stroke="#000" stroke-width="1" stroke-dasharray="3 1"/>
<line x1="646.70" y1="552.50" x2="771.70" y2="552.50" stroke="#000" stroke-width="1" stroke-dasharray="3 1"/>
<line x1="646.70" y1="563.50" x2="771.70" y2="563.50" stroke="#000" stroke-width="1" stroke-dasharray="3 1"/>
<line x1="646.70" y1="574.50" x2="771.70" y2="574.50" stroke="#000" stroke-width="1" stroke-dasharray="3 1"/>
<line x1="646.70" y1="585.50" x2="771.70" y2="585.50" stroke="#000" stroke-width="1" stroke-dasharray="3 1"/>
<line x1="646.70" y1="596.50" x2="771.70" y2="596.50" stroke="#000" stroke-width="1" stroke-dasharray="3 1"/>
<line x1="646.70" y1="607.50" x2="771.70" y2="607.50" stroke="#000" stroke-width="1" stroke-dasharray="3 1"/>
<line x1="646.70" y1="618.50" x2="771.70" y2="618.50" stroke="#000" stroke-width="1" stroke-dasharray="3 1"/>
<line x1="646.70" y1="541.50" x2="929.70" y2="541.50" stroke="#000" stroke-width="1" stroke-dasharray="3 1"/>
<line x1="771.70" y1="585.50" x2="850.70" y2="585.50" stroke="#000" stroke-width="1" stroke-dasharray="3 1"/>
<line x1="771.70" y1="601.50" x2="929.70" y2="601.50" stroke="#000" stroke-width="1" stroke-dasharray="3 1"/>
<line x1="771.70" y1="615.50" x2="850.70" y2="615.50" stroke="#000" stroke-width="1" stroke-dasharray="3 1"/>
<line x1="850.70" y1="570.50" x2="929.70" y2="570.50" stroke="#000" stroke-width="1" stroke-dasharray="3 1"/>
<line x1="660.50" y1="542.70" x2="660.50" y2="586.20" stroke="#000" stroke-width="1" stroke-dasharray="3 1"/>
<line x1="676.50" y1="542.70" x2="676.50" y2="586.20" stroke="#000" stroke-width="1" stroke-dasharray="3 1"/>
<line x1="701.50" y1="542.70" x2="701.50" y2="586.20" stroke="#000" stroke-width="1" stroke-dasharray="3 1"/>
<line x1="664.50" y1="586.20" x2="664.50" y2="626.00" stroke="#000" stroke-width="1" stroke-dasharray="3 1"/>
<line x1="682.50" y1="586.20" x2="682.50" y2="626.00" stroke="#000" stroke-width="1" stroke-dasharray="3 1"/>
<line x1="708.50" y1="586.20" x2="708.50" y2="626.00" stroke="#000" stroke-width="1" stroke-dasharray="3 1"/>
<line x1="645.50" y1="542.70" x2="645.50" y2="626.00" stroke="#000" stroke-width="1" stroke-dasharray="3 1"/>
<line x1="726.50" y1="542.70" x2="726.50" y2="626.00" stroke="#000" stroke-width="1" stroke-dasharray="3 1"/>
<line x1="745.50" y1="542.70" x2="745.50" y2="626.00" stroke="#000" stroke-width="1" stroke-dasharray="3 1"/>
<line x1="770.50" y1="542.70" x2="770.50" y2="626.00" stroke="#000" stroke-width="1" stroke-dasharray="3 1"/>
<line x1="849.50" y1="542.70" x2="849.50" y2="626.00" stroke="#000" stroke-width="1" stroke-dasharray="3 1"/>
<line x1="928.50" y1="542.70" x2="928.50" y2="626.00" stroke="#000" stroke-width="1" stroke-dasharray="3 1"/>
<line x1="811.50" y1="586.20" x2="811.50" y2="616.70" stroke="#000" stroke-width="1" stroke-dasharray="3 1"/>
<line x1="830.50" y1="586.20" x2="830.50" y2="616.70" stroke="#000" stroke-width="1" stroke-dasharray="3 1"/>
<line x1="791.50" y1="602.10" x2="791.50" y2="616.70" stroke="#000" stroke-width="1" stroke-dasharray="3 1"/>
<line x1="801.50" y1="602.10" x2="801.50" y2="616.70" stroke="#000" stroke-width="1" stroke-dasharray="3 1"/>
</g>
<text class="cj" x="648" y="582.41" font-size="6.6" fill="#ffffff" textLength="11.4" lengthAdjust="spacingAndGlyphs">标记</text>
<text class="cj" x="663.4" y="582.41" font-size="6.6" fill="#ffffff" textLength="10.8" lengthAdjust="spacingAndGlyphs">处数</text>
<text class="cj" x="681" y="582.41" font-size="6.6" fill="#ffffff" textLength="5.6" lengthAdjust="spacingAndGlyphs">分</text>
<text class="cj" x="690" y="582.41" font-size="6.6" fill="#ffffff" textLength="5.6" lengthAdjust="spacingAndGlyphs">区</text>
<text class="cj" x="703" y="582.41" font-size="6.6" fill="#ffffff" textLength="22.4" lengthAdjust="spacingAndGlyphs">更改文件号</text>
<text class="cj" x="729.6" y="582.41" font-size="6.6" fill="#ffffff" textLength="12.6" lengthAdjust="spacingAndGlyphs">签名</text>
<text class="cj" x="747" y="582.41" font-size="6.6" fill="#ffffff" textLength="22.4" lengthAdjust="spacingAndGlyphs">年、月、日</text>
<text class="cj" x="648" y="593.41" font-size="6.6" fill="#ffffff" textLength="12.6" lengthAdjust="spacingAndGlyphs">设计</text>
<text class="cj" x="709" y="593.41" font-size="6.6" fill="#ffffff" textLength="15" lengthAdjust="spacingAndGlyphs">标准化</text>
<text class="cj" x="648" y="615.41" font-size="6.6" fill="#ffffff" textLength="12.6" lengthAdjust="spacingAndGlyphs">审核</text>
<text class="cj" x="648" y="626.21" font-size="6.6" fill="#ffffff" textLength="12.6" lengthAdjust="spacingAndGlyphs">工艺</text>
<text class="cj" x="709.6" y="626.21" font-size="6.6" fill="#ffffff" textLength="12.6" lengthAdjust="spacingAndGlyphs">批准</text>
<text class="cj" x="775" y="596.16" font-size="7" fill="#ffffff" textLength="31.4" lengthAdjust="spacing">阶段标记</text>
<text class="cj" x="814.6" y="596.16" font-size="7" fill="#ffffff" textLength="13.2" lengthAdjust="spacingAndGlyphs">重量</text>
<text class="cj" x="833.6" y="596.16" font-size="7" fill="#ffffff" textLength="13.2" lengthAdjust="spacingAndGlyphs">比例</text>
<text class="cj" x="775" y="623.88" font-size="6" fill="#ffffff" textLength="5" lengthAdjust="spacingAndGlyphs">共</text>
<text class="cj" x="790" y="623.88" font-size="6" fill="#ffffff" textLength="5" lengthAdjust="spacingAndGlyphs">张</text>
<text class="cj" x="805" y="623.88" font-size="6" fill="#ffffff" textLength="5" lengthAdjust="spacingAndGlyphs">第</text>
<text class="cj" x="820" y="623.88" font-size="6" fill="#ffffff" textLength="5" lengthAdjust="spacingAndGlyphs">张</text>
<text class="cj" x="836.6" y="610.76" font-size="7" fill="#ffffff" textLength="5.6" lengthAdjust="spacingAndGlyphs">钢</text>
<text class="cb" x="786" y="569.97" font-size="13.6" fill="#000" stroke="#ffffff" stroke-width="0.75" textLength="42.2" lengthAdjust="spacingAndGlyphs">斜齿圆柱齿轮</text>
<text class="cb" x="868" y="591.44" font-size="13" fill="#000" stroke="#ffffff" stroke-width="0.75" textLength="15.4" lengthAdjust="spacingAndGlyphs">齿轮</text>
<text x="886" y="592" font-size="15.4" font-weight="bold" fill="#ffffff" textLength="8" lengthAdjust="spacingAndGlyphs">45</text>
<text class="cb" x="894.6" y="591.44" font-size="13" fill="#000" stroke="#ffffff" stroke-width="0.75" textLength="8" lengthAdjust="spacingAndGlyphs">钢</text>
</svg>
</body></html>
